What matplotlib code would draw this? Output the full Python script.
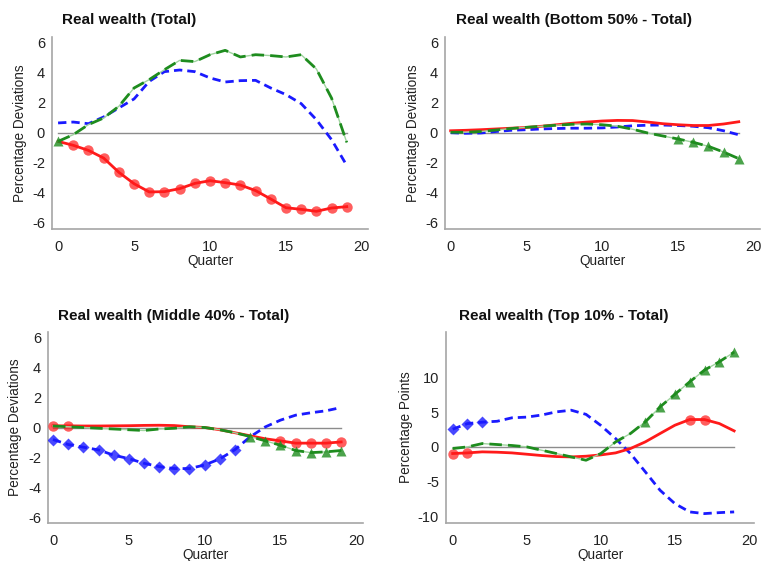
import matplotlib
matplotlib.use("Agg")
import matplotlib.pyplot as plt
import numpy as np

plt.rcParams['font.family'] = ['Liberation Sans', 'DejaVu Sans']
plt.rcParams['axes.unicode_minus'] = False

quarters = list(range(20))

titles = ["Real wealth (Total)", "Real wealth (Bottom 50% - Total)",
          "Real wealth (Middle 40% - Total)", "Real wealth (Top 10% - Total)"]
ylabels = ["Percentage Deviations", "Percentage Deviations",
           "Percentage Deviations", "Percentage Points"]

# Panel 1: Total
red_total = [-0.56, -0.82, -1.16, -1.67, -2.62, -3.38, -3.93, -3.91, -3.71, -3.36,
             -3.18, -3.31, -3.47, -3.84, -4.40, -4.98, -5.09, -5.22, -5.00, -4.91]
blue_total = [0.67, 0.73, 0.62, 1.07, 1.67, 2.27, 3.44, 4.09, 4.20, 4.09,
              3.67, 3.40, 3.49, 3.51, 3.00, 2.56, 1.96, 0.89, -0.44, -2.16]
green_total = [-0.56, -0.11, 0.56, 1.00, 1.78, 3.00, 3.56, 4.22, 4.84, 4.76,
               5.22, 5.51, 5.07, 5.22, 5.16, 5.07, 5.22, 4.27, 2.33, -0.62]
red_total_mk = list(range(1, 20))
blue_total_mk = []
green_total_mk = [0]

# Panel 2: Bottom 50%
red_b50 = [0.15, 0.18, 0.22, 0.27, 0.32, 0.37, 0.45, 0.55, 0.65, 0.73,
           0.80, 0.84, 0.83, 0.73, 0.62, 0.55, 0.50, 0.50, 0.60, 0.75]
blue_b50 = [0.02, -0.02, 0.00, 0.10, 0.18, 0.22, 0.27, 0.30, 0.32, 0.32,
            0.34, 0.40, 0.48, 0.52, 0.53, 0.50, 0.45, 0.35, 0.15, -0.12]
green_b50 = [0.05, 0.05, 0.10, 0.20, 0.30, 0.38, 0.45, 0.52, 0.58, 0.60,
             0.55, 0.45, 0.25, 0.00, -0.20, -0.40, -0.62, -0.89, -1.27, -1.71]
red_b50_mk = []
blue_b50_mk = []
green_b50_mk = [15, 16, 17, 18, 19]

# Panel 3: Middle 40%
red_m40 = [0.11, 0.11, 0.10, 0.10, 0.11, 0.12, 0.14, 0.15, 0.13, 0.05,
           0.00, -0.15, -0.35, -0.55, -0.75, -0.89, -1.04, -1.04, -1.04, -0.96]
blue_m40 = [-0.80, -1.13, -1.31, -1.49, -1.84, -2.07, -2.38, -2.60, -2.73, -2.73,
            -2.49, -2.09, -1.47, -0.62, 0.04, 0.49, 0.82, 0.98, 1.11, 1.33]
green_m40 = [0.10, 0.05, 0.00, -0.05, -0.10, -0.15, -0.20, -0.10, -0.05, 0.05,
             0.00, -0.15, -0.35, -0.60, -0.89, -1.18, -1.53, -1.67, -1.62, -1.53]
red_m40_mk = [0, 1, 15, 16, 17, 18, 19]
blue_m40_mk = list(range(0, 13))
green_m40_mk = [13, 14, 15, 16, 17, 18, 19]

# Panel 4: Top 10%
red_t10 = [-0.96, -0.87, -0.72, -0.77, -0.87, -1.06, -1.25, -1.40, -1.45, -1.35,
           -1.16, -0.87, -0.24, 0.72, 1.93, 3.13, 3.95, 3.95, 3.37, 2.31]
blue_t10 = [2.55, 3.37, 3.57, 3.70, 4.20, 4.30, 4.60, 5.06, 5.30, 4.70,
            3.10, 1.20, -0.96, -3.60, -6.27, -8.20, -9.40, -9.64, -9.50, -9.40]
green_t10 = [-0.24, 0.00, 0.48, 0.34, 0.20, 0.00, -0.48, -0.96, -1.45, -1.93,
             -0.96, 0.72, 1.93, 3.61, 5.78, 7.60, 9.40, 11.10, 12.30, 13.70]
red_t10_mk = [0, 1, 16, 17]
blue_t10_mk = [0, 1, 2]
green_t10_mk = [13, 14, 15, 16, 17, 18, 19]

panels = [
    (red_total, blue_total, green_total, red_total_mk, blue_total_mk, green_total_mk),
    (red_b50, blue_b50, green_b50, red_b50_mk, blue_b50_mk, green_b50_mk),
    (red_m40, blue_m40, green_m40, red_m40_mk, blue_m40_mk, green_m40_mk),
    (red_t10, blue_t10, green_t10, red_t10_mk, blue_t10_mk, green_t10_mk),
]

W, H = 764, 561
fig = plt.figure(figsize=(W / 100, H / 100), dpi=100)

# axes boxes in pixels: left, top, right, bottom
boxes = [(52, 37, 368, 229), (445, 37, 760, 229),
         (48, 332, 363, 523), (446, 332, 754, 523)]
ylims = [(-6.4, 6.4), (-6.4, 6.4), (-6.35, 6.35), (-11.0, 16.6)]
xlims = [(-0.4, 20.4), (-0.37, 20.4), (-0.33, 20.44), (-0.45, 20.34)]
yticks = [[-6, -4, -2, 0, 2, 4, 6]] * 3 + [[-10, -5, 0, 5, 10]]
title_pos = [(62, 20), (456, 20), (58, 316), (459, 316)]
ylabel_x = [27, 420, 22, 413]

red_c = '#ff1a1a'
blue_c = '#1a1aff'
green_c = '#1e8c1e'

for i, (red, blue, green, rmk, bmk, gmk) in enumerate(panels):
    l, t, r, b = boxes[i]
    ax = fig.add_axes([l / W, 1 - b / H, (r - l) / W, (b - t) / H])
    ax.plot([quarters[0], quarters[-1]], [0, 0], color='#8c8c8c', lw=1, zorder=1)
    # blue
    ax.plot(quarters, blue, color=blue_c, lw=2.0, dashes=(3, 1.8), zorder=3)
    if bmk:
        ax.plot([quarters[k] for k in bmk], [blue[k] for k in bmk], ls='none',
                marker='D', ms=6.5, color=blue_c, alpha=0.8, mec='none', zorder=4)
    # red
    ax.plot(quarters, red, color=red_c, lw=2.0, zorder=5)
    if rmk:
        ax.plot([quarters[k] for k in rmk], [red[k] for k in rmk], ls='none',
                marker='o', ms=7.5, color=red_c, alpha=0.7, mec='none', zorder=6)
    # green
    ax.plot(quarters, green, color='#9fd49f', lw=1.0, zorder=6)
    ax.plot(quarters, green, color=green_c, lw=2.0, dashes=(4.5, 2.2), zorder=7)
    if gmk:
        ax.plot([quarters[k] for k in gmk], [green[k] for k in gmk], ls='none',
                marker='^', ms=7.5, color=green_c, alpha=0.8, mec='none', zorder=8)

    ax.set_xlim(*xlims[i])
    ax.set_ylim(*ylims[i])
    ax.set_xticks([0, 5, 10, 15, 20])
    ax.set_yticks(yticks[i])
    ax.tick_params(length=0, labelsize=10.5, colors='#222222', pad=5)
    ax.tick_params(axis='x', pad=8)
    for s in ['top', 'right']:
        ax.spines[s].set_visible(False)
    for s in ['left', 'bottom']:
        ax.spines[s].set_color('#a6a6a6')
        ax.spines[s].set_linewidth(1.2)
    ax.set_xlabel("Quarter", fontsize=9.8, color='#222222', labelpad=0)
    ax.set_ylabel(ylabels[i], fontsize=9.8, color='#222222')
    ax.yaxis.set_label_coords((ylabel_x[i] - l) / (r - l), 0.5)
    tx, ty = title_pos[i]
    fig.text(tx / W, 1 - ty / H, titles[i], fontsize=11, fontweight='bold',
             ha='left', va='center', color='#111111')

fig.savefig("out.png", dpi=100)
